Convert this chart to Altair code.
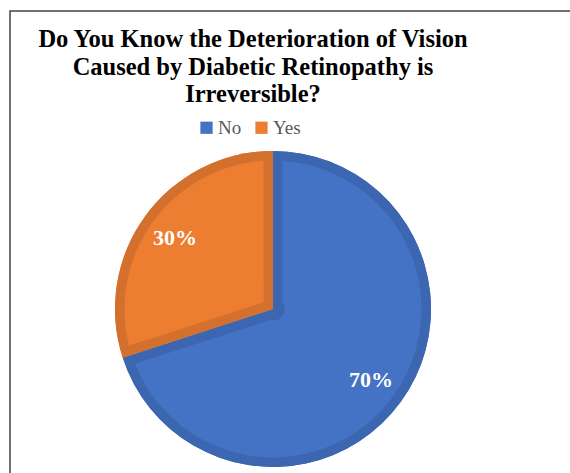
import math
import altair as alt
import pandas as pd

# ---- data ----
answers = ["No", "Yes"]
percents = [70, 30]
light_colors = ["#4472C4", "#ED7D31"]
dark_colors = ["#3D66B0", "#D3702D"]
title_lines = [
    "Do You Know the Deterioration of Vision",
    "Caused by Diabetic Retinopathy is",
    "Irreversible?",
]

df = pd.DataFrame({"answer": answers, "percent": percents, "rank": list(range(len(answers)))})
one = pd.DataFrame({"k": [0]})

CX, CY = 273, 309
R = 158
BORDER = 9.5
HOLE = 11.5
inner_r = R - BORDER
pad_r = math.sqrt(inner_r ** 2 + HOLE ** 2)
pad_angle = 2 * math.asin(BORDER / pad_r)

theta = alt.Theta("percent:Q", stack=True)
order = alt.Order("rank:Q")

frame = alt.Chart(one).mark_rect(filled=False, stroke="#404040", strokeWidth=1.5).encode(
    x=alt.value(10), y=alt.value(11), x2=alt.value(900), y2=alt.value(900)
)

light = alt.Chart(df).mark_arc(radius=R).encode(
    theta=theta,
    order=order,
    color=alt.Color(
        "answer:N",
        scale=alt.Scale(domain=answers, range=light_colors),
        legend=alt.Legend(
            title=None,
            orient="none",
            legendX=197,
            legendY=118,
            direction="horizontal",
            symbolType="square",
            symbolSize=150,
            symbolStrokeWidth=0,
            labelFont="Liberation Serif",
            labelFontSize=19,
            labelColor="#595959",
            labelOffset=2,
            columnPadding=10,
            padding=0,
        ),
    ),
    x=alt.value(CX),
    y=alt.value(CY),
)

# darker inset border: dark slices underneath, lighter inset slices on top
dark = alt.Chart(df).transform_calculate(shade="datum.answer").mark_arc(radius=R).encode(
    theta=theta,
    order=order,
    fill=alt.Fill("shade:N", scale=alt.Scale(domain=answers, range=dark_colors), legend=None),
    x=alt.value(CX),
    y=alt.value(CY),
)

inset = alt.Chart(df).transform_calculate(tone="datum.answer").mark_arc(
    radius=inner_r, innerRadius=HOLE, padAngle=pad_angle
).encode(
    theta=theta,
    order=order,
    fill=alt.Fill("tone:N", scale=alt.Scale(domain=answers, range=light_colors), legend=None),
    x=alt.value(CX),
    y=alt.value(CY),
)

labels = alt.Chart(df).transform_calculate(label="datum.percent + '%'").mark_text(
    radius=121, font="Liberation Serif", fontSize=22, fontWeight="bold", color="white"
).encode(
    theta=theta,
    order=order,
    text="label:N",
    x=alt.value(CX),
    y=alt.value(CY),
)

title = alt.Chart(one).mark_text(
    text=title_lines,
    font="Liberation Serif",
    fontSize=24.5,
    fontWeight="bold",
    color="black",
    lineHeight=27.5,
    baseline="alphabetic",
    align="center",
).encode(x=alt.value(253), y=alt.value(47))

chart = (
    alt.layer(frame, light, dark, inset, labels, title)
    .resolve_scale(fill="independent")
    .properties(width=570, height=473, autosize=alt.AutoSizeParams(type="none"), padding=0, background="white")
    .configure_view(strokeWidth=0)
)

chart.save("out.html", embed_options={"renderer": "svg", "actions": False})
